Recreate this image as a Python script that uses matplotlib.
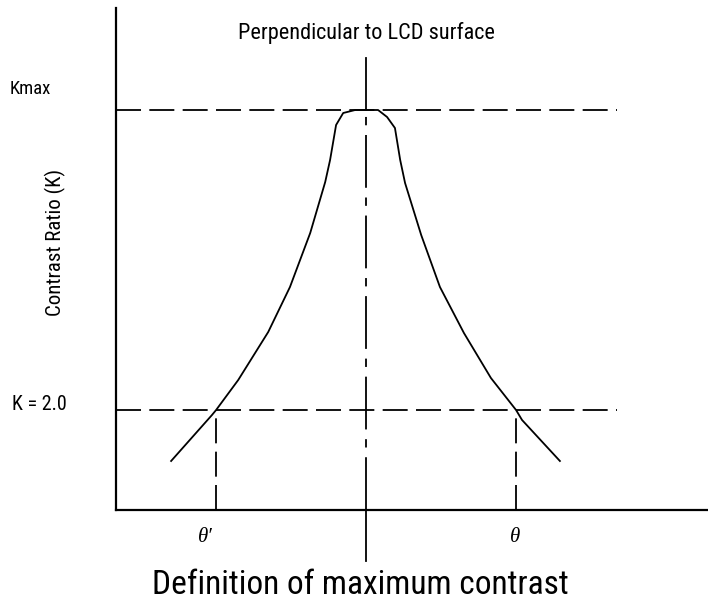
import matplotlib
matplotlib.use('Agg')
import matplotlib.pyplot as plt
from matplotlib import font_manager as fm

# contrast curve (viewing angle in deg, contrast ratio K)
angle = [-52.0, -41.1, -40.0, -34.1, -26.1, -20.3, -14.9, -10.9, -9.6, -8.0,
         -6.1, -2.9, 3.2, 5.6, 7.7, 9.1, 10.4, 14.7, 19.7, 26.1, 33.3, 40.0,
         41.6, 51.7]
contrast = [1.49, 1.95, 2.0, 2.30, 2.78, 3.23, 3.77, 4.28, 4.50, 4.85,
            4.97, 5.0, 5.0, 4.93, 4.82, 4.50, 4.27, 3.75, 3.23, 2.77, 2.32, 2.0,
            1.90, 1.49]

k_max = 5.0
k_min = 2.0
theta_left = -40.0
theta_right = 40.0
ref_end = 67.0

names = {f.name for f in fm.fontManager.ttflist}
font = 'DejaVu Sans'
for cand in ['Liberation Sans Narrow', 'Roboto Condensed', 'Open Sans Condensed']:
    if cand in names:
        font = cand
        break
plt.rcParams['font.family'] = [font, 'DejaVu Sans']
plt.rcParams['lines.scale_dashes'] = False

fig = plt.figure(figsize=(7.08, 6.06), dpi=100)
ax = fig.add_axes([116 / 708, 96 / 606, 592 / 708, 502 / 606])
ax.set_xlim(-66.7, 91.2)
ax.set_ylim(1.0, 6.02)

lw = 1.3
dash = (0, (18, 6))
ax.plot(angle, contrast, color='black', lw=lw)
ax.plot([-66.7, ref_end], [k_max, k_max], color='black', lw=lw, linestyle=dash)
ax.plot([-66.7, ref_end], [k_min, k_min], color='black', lw=lw, linestyle=dash)
for t in (theta_left, theta_right):
    ax.plot([t, t], [1.0, k_min], color='black', lw=lw, linestyle=dash)

# perpendicular centre line: solid above Kmax and below the axis, dash-dot between
ax.plot([0, 0], [k_max, 5.52], color='black', lw=lw, clip_on=False)
ax.plot([0, 0], [1.0, k_max], color='black', lw=lw, linestyle=(0, (38, 7, 6, 7)))
ax.plot([0, 0], [0.49, 1.0], color='black', lw=lw, clip_on=False)

for side in ['top', 'right']:
    ax.spines[side].set_visible(False)
for side in ['left', 'bottom']:
    ax.spines[side].set_linewidth(1.6)
ax.set_xticks([])
ax.set_yticks([])

ax.text(0, 5.77, 'Perpendicular to LCD surface', ha='center', va='center',
        fontsize=16)
fig.text(10 / 708, 1 - 89 / 606, 'Kmax', ha='left', va='center', fontsize=13.5)
fig.text(12 / 708, 1 - 405 / 606, 'K = 2.0', ha='left', va='center', fontsize=14.5)
fig.text(55 / 708, 1 - 242 / 606, 'Contrast Ratio (K)', ha='center', va='center',
         rotation=90, fontsize=15)
serif = ['Liberation Serif', 'DejaVu Serif']
fig.text(205 / 708, 1 - 537 / 606, 'θ′', ha='center', va='center',
         fontsize=15, family=serif, style='italic')
fig.text(515 / 708, 1 - 537 / 606, 'θ', ha='center', va='center',
         fontsize=15, family=serif, style='italic')
fig.text(360 / 708, 1 - 585 / 606, 'Definition of maximum contrast', ha='center',
         va='center', fontsize=24)

fig.savefig('out.png', dpi=100)
